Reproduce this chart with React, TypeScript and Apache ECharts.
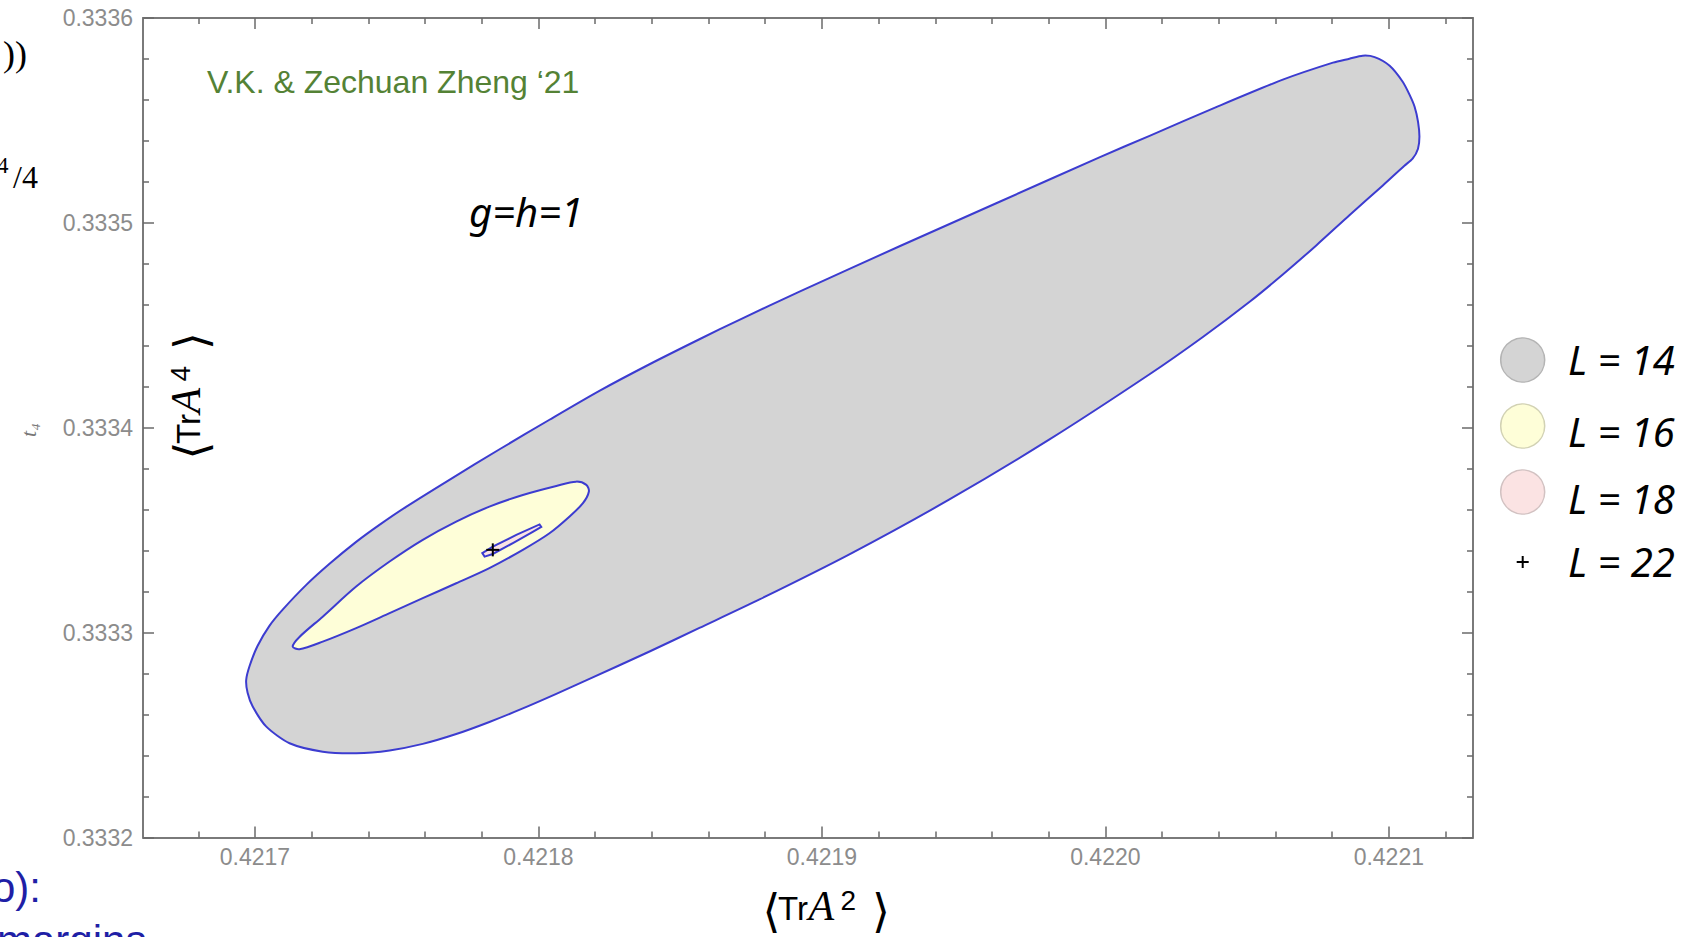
import React, { useEffect, useRef } from 'react';
import * as echarts from 'echarts';

// ---------- axis ranges & ticks ----------
const X_RANGE = [0.4216605, 0.4221297];
const Y_RANGE = [0.3332, 0.3336];
const Y_INTERVAL = 0.0001;
const X_TICKS = [0.4217, 0.4218, 0.4219, 0.422, 0.4221];
const X_MINOR_TICKS = [
  0.42168, 0.42172, 0.42174, 0.42176, 0.42178, 0.42182, 0.42184, 0.42186, 0.42188,
  0.42192, 0.42194, 0.42196, 0.42198, 0.42202, 0.42204, 0.42206, 0.42208, 0.42212,
];

// ---------- contour data: <TrA^2>, <TrA^4> ----------
const L14_X = [
  0.4216969, 0.4216981, 0.4217009, 0.4217051, 0.4217097, 0.4217181, 0.4217263, 0.4217357, 0.4217439,
  0.4217533, 0.4217686, 0.4217863, 0.4218039, 0.4218215, 0.4218392, 0.4218568, 0.4218709, 0.4218921,
  0.4219274, 0.4219627, 0.4219979, 0.4220156, 0.4220391, 0.4220626, 0.4220803, 0.4220861, 0.4220908,
  0.422095, 0.4221003, 0.4221049, 0.4221073, 0.4221091, 0.4221103, 0.4221108, 0.4221103, 0.4221084,
  0.4221055, 0.4220979, 0.4220861, 0.4220744, 0.4220626, 0.4220509, 0.4220344, 0.4220156, 0.4219803,
  0.421945, 0.4219097, 0.421878, 0.4218568, 0.4218392, 0.421818, 0.4218063, 0.4217945, 0.4217827,
  0.421771, 0.4217592, 0.4217475, 0.4217357, 0.4217239, 0.4217122, 0.421704, 0.4216992, 0.4216974,
];
const L14_Y = [
  0.3332769, 0.3332837, 0.3332935, 0.3333033, 0.3333111, 0.3333233, 0.3333336, 0.3333443, 0.3333526,
  0.3333614, 0.3333746, 0.3333895, 0.3334039, 0.333418, 0.333431, 0.3334432, 0.3334527, 0.3334664,
  0.3334886, 0.3335103, 0.333532, 0.3335425, 0.3335565, 0.3335699, 0.3335782, 0.3335801, 0.3335816,
  0.3335809, 0.3335767, 0.3335689, 0.3335626, 0.3335567, 0.3335494, 0.3335421, 0.3335362, 0.3335313,
  0.3335279, 0.3335183, 0.3335037, 0.333489, 0.3334748, 0.3334615, 0.3334443, 0.3334261, 0.3333943,
  0.333365, 0.3333382, 0.3333162, 0.3333023, 0.3332908, 0.3332774, 0.3332701, 0.333263, 0.3332564,
  0.3332505, 0.3332457, 0.3332425, 0.3332411, 0.3332419, 0.333246, 0.3332541, 0.3332639, 0.3332706,
];
const L16_X = [
  0.4217133, 0.4217157, 0.4217239, 0.4217357, 0.4217475, 0.4217592, 0.421771, 0.4217827,
  0.4217945, 0.4218063, 0.4218133, 0.4218169, 0.4218178, 0.4218157, 0.421811, 0.4218039,
  0.4217945, 0.4217827, 0.421771, 0.4217592, 0.4217475, 0.4217357, 0.4217239, 0.4217157,
];
const L16_Y = [
  0.3332932, 0.3332979, 0.3333078, 0.3333225, 0.3333347, 0.3333453, 0.3333542, 0.3333615,
  0.3333672, 0.3333716, 0.3333737, 0.3333721, 0.3333689, 0.3333632, 0.3333567, 0.3333485,
  0.3333404, 0.3333315, 0.3333241, 0.3333168, 0.3333095, 0.3333022, 0.3332956, 0.3332919,
];
const L18_X = [0.4217802, 0.4217839, 0.4217922, 0.4218004, 0.421801, 0.421798, 0.421791, 0.4217839, 0.421781];
const L18_Y = [0.3333388, 0.333342, 0.3333477, 0.3333528, 0.3333516, 0.3333492, 0.3333437, 0.3333384, 0.3333371];
const L22_POINT = [0.4217839, 0.3333404];

const SERIES_NAMES = ['L = 14', 'L = 16', 'L = 18', 'L = 22'];
const SERIES_FILLS = ['#d4d4d4', '#fefed8', '#fbe3e3', '#000000'];
const LEGEND_STROKES = ['#b4b4b4', '#d2d2b4', '#d2c2c2', '#000000'];

const LINE_BLUE = '#3c3cd0';
const AXIS_COLOR = '#7a7a7a';
const TICK_COLOR = '#6a6a6a';
const LABEL_COLOR = '#8c8c8c';

function polygonSeries(name: string, xs: number[], ys: number[], fill: string, smooth: number, z: number) {
  return {
    type: 'custom',
    name,
    xAxisIndex: 0,
    yAxisIndex: 0,
    silent: true,
    z,
    data: xs.map((x, i) => [x, ys[i]]),
    encode: { x: 0, y: 1 },
    renderItem: (params: any, api: any) => {
      if (params.dataIndex !== 0) return null;
      const pts = xs.map((x, i) => api.coord([x, ys[i]]));
      return {
        type: 'polygon',
        shape: { points: pts, smooth },
        style: { fill, stroke: LINE_BLUE, lineWidth: 2 },
      };
    },
  };
}

function mathTitle(cx: number, cy: number, rotation: number, sup: string) {
  const t = (x: number, y: number, text: string, fontFamily: string, fontSize: number, fontStyle = 'normal') => ({
    type: 'text',
    x,
    y,
    style: {
      text,
      fontFamily,
      fontSize,
      fontStyle,
      fill: '#000',
      align: 'left',
      verticalAlign: 'middle',
      textAlign: 'left',
      textVerticalAlign: 'middle',
    },
  });
  return {
    type: 'group',
    x: cx,
    y: cy,
    rotation,
    children: [
      t(-64, -9, '⟨', 'DejaVu Sans', 46),
      t(-48.5, -11.4, 'Tr', 'Liberation Sans', 33),
      t(-18, -14.2, 'A', 'Liberation Serif', 42, 'italic'),
      t(14, -20, sup, 'Liberation Sans', 28),
      t(45.5, -9, '⟩', 'DejaVu Sans', 46),
    ],
  };
}

function txt(x: number, y: number, text: string, opts: any) {
  return {
    type: 'text',
    x,
    y,
    rotation: opts.rotation || 0,
    style: {
      text,
      fill: opts.fill || '#000',
      fontFamily: opts.fontFamily || 'Liberation Sans',
      fontSize: opts.fontSize || 20,
      fontStyle: opts.fontStyle || 'normal',
      fontWeight: opts.fontWeight || 'normal',
      align: opts.align || 'left',
      verticalAlign: 'middle',
      textAlign: opts.align || 'left',
      textVerticalAlign: 'middle',
    },
  };
}

export default function App() {
  const ref = useRef<HTMLDivElement>(null);

  useEffect(() => {
    if (!ref.current) return;
    const chart = echarts.init(ref.current, undefined, { renderer: 'svg' });
    const fmt = (v: number) => v.toFixed(4);
    const xBase = (position: string, major: boolean, labels: boolean) => ({
      type: 'value',
      position,
      min: X_RANGE[0],
      max: X_RANGE[1],
      axisLine: { show: major, onZero: false, lineStyle: { color: AXIS_COLOR, width: 2 } },
      axisTick: {
        show: true,
        inside: true,
        length: major ? 11 : 6,
        customValues: major ? X_TICKS : X_MINOR_TICKS,
        lineStyle: { color: TICK_COLOR, width: 1.5 },
      },
      axisLabel: labels
        ? {
            show: true,
            customValues: X_TICKS,
            formatter: fmt,
            margin: 8,
            fontSize: 23,
            fontFamily: 'Liberation Sans',
            color: LABEL_COLOR,
          }
        : { show: false },
      splitLine: { show: false },
    });
    const yBase = (position: string, labels: boolean) => ({
      type: 'value',
      position,
      min: Y_RANGE[0],
      max: Y_RANGE[1],
      interval: Y_INTERVAL,
      axisLine: { show: true, onZero: false, lineStyle: { color: AXIS_COLOR, width: 2 } },
      axisTick: { show: true, inside: true, length: 11, lineStyle: { color: TICK_COLOR, width: 1.5 } },
      minorTick: { show: true, splitNumber: 5, length: 6, lineStyle: { color: TICK_COLOR, width: 1.5 } },
      axisLabel: labels
        ? { show: true, formatter: fmt, margin: 10, fontSize: 23, fontFamily: 'Liberation Sans', color: LABEL_COLOR }
        : { show: false },
      splitLine: { show: false },
      minorSplitLine: { show: false },
    });

    const legendY = [360, 426, 492, 562];
    const legendTextY = [359.5, 431, 498, 561];
    const legendCx = 1522.7;
    const legendGraphics: any[] = [];
    SERIES_NAMES.forEach((name, i) => {
      if (i < 3) {
        legendGraphics.push({
          type: 'circle',
          shape: { cx: legendCx, cy: legendY[i], r: 22 },
          style: { fill: SERIES_FILLS[i], stroke: LEGEND_STROKES[i], lineWidth: 1.5 },
        });
      } else {
        legendGraphics.push({
          type: 'line',
          shape: { x1: legendCx - 6, y1: legendY[i], x2: legendCx + 6, y2: legendY[i] },
          style: { stroke: '#000', lineWidth: 2 },
        });
        legendGraphics.push({
          type: 'line',
          shape: { x1: legendCx, y1: legendY[i] - 6, x2: legendCx, y2: legendY[i] + 6 },
          style: { stroke: '#000', lineWidth: 2 },
        });
      }
      legendGraphics.push(txt(1568, legendTextY[i], name, { fontFamily: 'Noto Sans', fontSize: 40, fontStyle: 'italic' }));
    });

    const option: any = {
      animation: false,
      backgroundColor: '#ffffff',
      grid: { left: 143, top: 18, width: 1330, height: 819.5, containLabel: false, outerBoundsMode: 'none' },
      xAxis: [xBase('bottom', true, true), xBase('bottom', false, false), xBase('top', true, false), xBase('top', false, false)],
      yAxis: [yBase('left', true), yBase('right', false)],
      series: [
        polygonSeries(SERIES_NAMES[0], L14_X, L14_Y, SERIES_FILLS[0], 0.25, 2),
        polygonSeries(SERIES_NAMES[1], L16_X, L16_Y, SERIES_FILLS[1], 0.3, 3),
        polygonSeries(SERIES_NAMES[2], L18_X, L18_Y, SERIES_FILLS[2], 0, 4),
        {
          type: 'custom',
          name: SERIES_NAMES[3],
          xAxisIndex: 0,
          yAxisIndex: 0,
          silent: true,
          z: 5,
          data: [L22_POINT],
          encode: { x: 0, y: 1 },
          renderItem: (params: any, api: any) => {
            const p = api.coord([api.value(0), api.value(1)]);
            return {
              type: 'group',
              children: [
                { type: 'line', shape: { x1: p[0] - 6.5, y1: p[1], x2: p[0] + 6.5, y2: p[1] }, style: { stroke: '#000', lineWidth: 2 } },
                { type: 'line', shape: { x1: p[0], y1: p[1] - 6.5, x2: p[0], y2: p[1] + 6.5 }, style: { stroke: '#000', lineWidth: 2 } },
              ],
            };
          },
        },
      ],
      graphic: [
        txt(207, 82.2, 'V.K. & Zechuan Zheng ‘21', { fill: '#548235', fontSize: 32 }),
        txt(469, 211.5, 'g=h=1', { fontFamily: 'Noto Sans', fontSize: 40, fontStyle: 'italic' }),
        mathTitle(826.5, 920, 0, '2'),
        mathTitle(200, 395.5, Math.PI / 2, '4'),
        ...legendGraphics,
        // fragments of the surrounding slide
        txt(3, 54.4, '))', { fontFamily: 'Liberation Serif', fontSize: 36 }),
        txt(-3, 165, '4', { fontFamily: 'Liberation Serif', fontSize: 23 }),
        txt(13, 177, '/4', { fontFamily: 'Liberation Serif', fontSize: 32 }),
        txt(28, 430, 't₄', { fontFamily: 'Liberation Serif', fontSize: 22, fontStyle: 'italic', fill: '#777', rotation: Math.PI / 2, align: 'center' }),
        txt(-8, 887, 'o):', { fill: '#1f1fa6', fontSize: 42 }),
        txt(-3, 940, 'margins', { fill: '#1f1fa6', fontSize: 42 }),
      ],
    };
    chart.setOption(option);
    return () => chart.dispose();
  }, []);

  return (
    <div
      ref={ref}
      style={{ position: 'fixed', left: 0, top: 0, width: 1690, height: 937, background: '#fff' }}
    />
  );
}
